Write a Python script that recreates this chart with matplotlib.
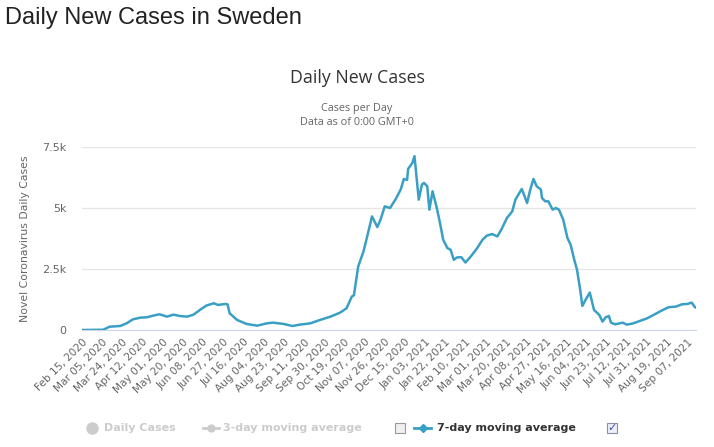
import numpy as np
import pandas as pd
import matplotlib
matplotlib.use("Agg")
import matplotlib.pyplot as plt
from matplotlib.lines import Line2D
from matplotlib.patches import Rectangle
from matplotlib.ticker import FuncFormatter

# ---------------------------------------------------------------
#  Data: 7-day moving average of daily new cases
# ---------------------------------------------------------------
start_date = "2020-02-15"
end_date = "2021-09-15"

dates = [
    "2020-02-15", "2020-03-06", "2020-03-12", "2020-03-22", "2020-03-28",
    "2020-04-03", "2020-04-10", "2020-04-16", "2020-04-22", "2020-04-28",
    "2020-05-05", "2020-05-11", "2020-05-17", "2020-05-24", "2020-05-30",
    "2020-06-05", "2020-06-11", "2020-06-18", "2020-06-22", "2020-06-29",
    "2020-07-01", "2020-07-03", "2020-07-10", "2020-07-19", "2020-07-29",
    "2020-08-07", "2020-08-13", "2020-08-23", "2020-08-31", "2020-09-07",
    "2020-09-17", "2020-09-26", "2020-10-06", "2020-10-15", "2020-10-21",
    "2020-10-26", "2020-10-28", "2020-11-01", "2020-11-06", "2020-11-11",
    "2020-11-14", "2020-11-19", "2020-11-22", "2020-11-26", "2020-12-01",
    "2020-12-06", "2020-12-11", "2020-12-14", "2020-12-17", "2020-12-18",
    "2020-12-22", "2020-12-24", "2020-12-28", "2020-12-31", "2021-01-02",
    "2021-01-05", "2021-01-07", "2021-01-10", "2021-01-14", "2021-01-17",
    "2021-01-20", "2021-01-24", "2021-01-27", "2021-01-30", "2021-02-02",
    "2021-02-06", "2021-02-10", "2021-02-15", "2021-02-21", "2021-02-26",
    "2021-03-02", "2021-03-07", "2021-03-12", "2021-03-16", "2021-03-21",
    "2021-03-26", "2021-03-29", "2021-04-04", "2021-04-09", "2021-04-12",
    "2021-04-15", "2021-04-18", "2021-04-22", "2021-04-23", "2021-04-26",
    "2021-04-29", "2021-05-03", "2021-05-06", "2021-05-09", "2021-05-13",
    "2021-05-17", "2021-05-20", "2021-05-23", "2021-05-26", "2021-05-29",
    "2021-05-31", "2021-06-03", "2021-06-07", "2021-06-11", "2021-06-16",
    "2021-06-19", "2021-06-22", "2021-06-25", "2021-06-27", "2021-07-01",
    "2021-07-08", "2021-07-12", "2021-07-18", "2021-07-25", "2021-07-31",
    "2021-08-06", "2021-08-13", "2021-08-20", "2021-08-27", "2021-09-02",
    "2021-09-07", "2021-09-11", "2021-09-14", "2021-09-15",
]

avg7 = [
    0, 10, 136, 164, 274,
    438, 507, 520, 589, 644,
    548, 630, 575, 548, 630,
    822, 1000, 1096, 1027, 1068,
    1050, 685, 411, 247, 178,
    274, 301, 247, 164, 219,
    274, 411, 548, 712, 890,
    1370, 1425, 2603, 3219, 4110,
    4657, 4220, 4520, 5068, 5000,
    5343, 5754, 6192, 6150, 6603,
    6850, 7123, 5343, 5960, 6028,
    5891, 4932, 5685, 5000, 4384,
    3699, 3356, 3288, 2877, 2973,
    2986, 2767, 3014, 3356, 3699,
    3863, 3932, 3836, 4137, 4589,
    4863, 5343, 5781, 5206, 5754,
    6192, 5891, 5754, 5411, 5274,
    5274, 4932, 5000, 4932, 4521,
    3767, 3493, 2945, 2466, 1644,
    986, 1233, 1534, 822, 616,
    343, 520, 575, 301, 233,
    301, 219, 274, 384, 479,
    616, 781, 932, 959, 1055,
    1068, 1123, 932, 918,
]

tick_labels = [
    "Feb 15, 2020", "Mar 05, 2020", "Mar 24, 2020", "Apr 12, 2020",
    "May 01, 2020", "May 20, 2020", "Jun 08, 2020", "Jun 27, 2020",
    "Jul 16, 2020", "Aug 04, 2020", "Aug 23, 2020", "Sep 11, 2020",
    "Sep 30, 2020", "Oct 19, 2020", "Nov 07, 2020", "Nov 26, 2020",
    "Dec 15, 2020", "Jan 03, 2021", "Jan 22, 2021", "Feb 10, 2021",
    "Mar 01, 2021", "Mar 20, 2021", "Apr 08, 2021", "Apr 27, 2021",
    "May 16, 2021", "Jun 04, 2021", "Jun 23, 2021", "Jul 12, 2021",
    "Jul 31, 2021", "Aug 19, 2021", "Sep 07, 2021",
]

y_ticks = [0, 2500, 5000, 7500]

# day index on a category-like axis
t0 = pd.Timestamp(start_date)
day = np.array([(pd.Timestamp(d) - t0).days for d in dates])
tick_pos = [(pd.Timestamp(lbl) - t0).days for lbl in tick_labels]
last_day = (pd.Timestamp(end_date) - t0).days

LINE = "#3a9fc4"
GREY = "#666666"
HIDDEN = "#cccccc"

fig = plt.figure(figsize=(7.14, 4.47), dpi=100)
ax = fig.add_axes([82 / 714, 1 - 330 / 447, 614 / 714, 183 / 447])

ax.plot(day, avg7, color=LINE, linewidth=1.8, solid_joinstyle="round")

ax.set_xlim(0, last_day)
ax.set_ylim(0, 7500)
ax.set_yticks(y_ticks)
ax.yaxis.set_major_formatter(
    FuncFormatter(lambda v, _: "0" if v == 0 else f"{v / 1000:g}k"))
ax.set_xticks(tick_pos)
ax.set_xticklabels(tick_labels, rotation=45, ha="right", va="top",
                   rotation_mode="anchor")

ax.grid(True, axis="y", color="#e6e6e6", linewidth=1)
ax.set_axisbelow(True)
for side in ["top", "right", "left"]:
    ax.spines[side].set_visible(False)
ax.spines["bottom"].set_color("#ccd6eb")
ax.tick_params(axis="y", length=0, labelsize=8, labelcolor=GREY, pad=11)
ax.tick_params(axis="x", length=0, labelsize=7.6, labelcolor=GREY, pad=5)

ax.set_ylabel("Novel Coronavirus Daily Cases", fontsize=7.8, color=GREY,
              labelpad=9)

# titles
fig.text(5 / 714, 1 - 18 / 447, "Daily New Cases in Sweden",
         family="Liberation Sans", fontsize=17, color="#222222",
         ha="left", va="center")
fig.text(0.5, 1 - 78 / 447, "Daily New Cases", family="Open Sans",
         fontsize=12.8, color="#333333", ha="center", va="center")
fig.text(0.5, 1 - 108 / 447, "Cases per Day", family="Open Sans",
         fontsize=7.8, color=GREY, ha="center", va="center")
fig.text(0.5, 1 - 123 / 447, "Data as of 0:00 GMT+0", family="Open Sans",
         fontsize=7.8, color=GREY, ha="center", va="center")

# legend (drawn by hand to mimic the checkbox legend)
ly = 1 - 428 / 447
tf = fig.transFigure


def px(x):
    return x / 714


fig.add_artist(Line2D([px(92)], [ly], marker="o", markersize=8,
                      color=HIDDEN, transform=tf))
fig.text(px(104), ly, "Daily Cases", fontsize=8, weight="bold",
         color=HIDDEN, ha="left", va="center")
fig.add_artist(Line2D([px(203), px(219)], [ly, ly], color=HIDDEN,
                      linewidth=2, transform=tf))
fig.add_artist(Line2D([px(211)], [ly], marker="o", markersize=5,
                      color=HIDDEN, transform=tf))
fig.text(px(223), ly, "3-day moving average", fontsize=8, weight="bold",
         color=HIDDEN, ha="left", va="center")

box_h = 10 / 447
fig.add_artist(Rectangle((px(395), ly - box_h / 2), px(10), box_h,
                         facecolor="#f0f0f0", edgecolor="#999999",
                         linewidth=0.8, transform=tf))
fig.add_artist(Line2D([px(414), px(431)], [ly, ly], color=LINE,
                      linewidth=2, transform=tf))
fig.add_artist(Line2D([px(422.5)], [ly], marker="D", markersize=4.5,
                      color=LINE, transform=tf))
fig.text(px(437), ly, "7-day moving average", fontsize=8, weight="bold",
         color="#333333", ha="left", va="center")
fig.add_artist(Rectangle((px(607), ly - box_h / 2), px(10), box_h,
                         facecolor="#eef0f8", edgecolor="#8a8fa8",
                         linewidth=0.8, transform=tf))
fig.text(px(612), ly, "\u2713", fontsize=8, weight="bold", color="#3a4fa0",
         ha="center", va="center")

fig.savefig("out.png", dpi=100)
